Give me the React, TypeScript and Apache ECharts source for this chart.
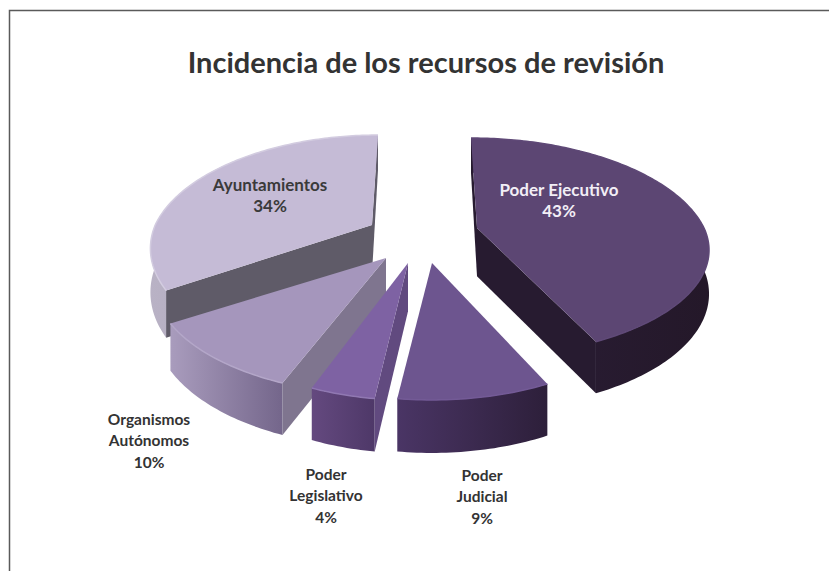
import React, { useEffect, useRef } from "react";
import * as echarts from "echarts";

const chartTitle = "Incidencia de los recursos de revisión";
const categories = ["Poder Ejecutivo", "Poder\nJudicial", "Poder\nLegislativo", "Organismos\nAutónomos", "Ayuntamientos"];
const shares = [43, 9, 4, 10, 34];

// back-to-front painting order, exploded apex of every slice, and its look
const drawOrder = [0, 4, 3, 2, 1];
const apexX = [477, 432, 408, 386, 372];
const apexY = [228, 263, 263, 258, 225];
const backLean = [-6, 0, 0, 0, 6];
const widthScale = [1, 0.97, 0.93, 1, 0.955];
const frontScale = [0.94, 1, 1, 1, 1];
const topColors = ["#5C4673", "#6D558F", "#7E62A3", "#A596BC", "#C5BBD6"];
const rimColors = ["#5F4977", "#735A96", "#9078B2", "#B3A6C8", "#D3CCE0"];
const wallLeft = ["#2B1E38", "#4A3565", "#64497F", "#A99CBD", "#B9B2C5"];
const wallRight = ["#241829", "#2D1F3A", "#4E3868", "#74668B", "#A39DAF"];
const faceColors = ["#271B30", "#3A2950", "#614A7F", "#7F758F", "#5F5B68"];
const labelX = [559, 482, 326, 149, 270];
const labelY = [200, 496, 495, 440, 195];
const labelSizes = [17, 15.5, 15.5, 15.5, 17];
const labelColors = ["#F2EEF6", "#333333", "#333333", "#333333", "#3A3A3A"];

const RX = 227;
const RY = 108.6;
const K = 0.207;
const DEPTH = 42;

function project(deg: number, i: number) {
  const t = (deg * Math.PI) / 180;
  const u = Math.sin(t);
  const v = -Math.cos(t);
  const d = 1 - K * v;
  return {
    x: ((RX * u) / d) * widthScale[i] + (v < 0 ? -v * backLean[i] : 0),
    y: ((RY * v) / d) * (v > 0 ? frontScale[i] : 1),
    h: DEPTH / d,
  };
}

let cumulative = 0;
const startAngles = shares.map((s) => {
  const a = (cumulative / 100) * 360;
  cumulative += s;
  return a;
});

function renderItem(_params: any, api: any) {
  const i = api.value(0) as number;
  const start = api.value(2) as number;
  const end = start + ((api.value(1) as number) / 100) * 360;
  const ax = apexX[i];
  const ay = apexY[i];
  const arc: { x: number; y: number; h: number }[] = [];
  const steps = Math.max(6, Math.round(end - start));
  for (let s = 0; s <= steps; s++) arc.push(project(start + ((end - start) * s) / steps, i));
  const top = arc.map((p) => [ax + p.x, ay + p.y]);
  const low = arc.map((p) => [ax + p.x, ay + p.y + p.h]).reverse();
  const mid = project((start + end) / 2, i);
  const apexDepth = DEPTH * 1.15;
  const children: any[] = [];

  children.push({
    type: "polygon",
    shape: { points: [...top, ...low] },
    style: {
      fill: new echarts.graphic.LinearGradient(0, 0, 1, 0, [
        { offset: 0, color: wallLeft[i] },
        { offset: 1, color: wallRight[i] },
      ]),
    },
  });

  [arc[0], arc[arc.length - 1]].forEach((p) => {
    const side = p.x * 1 - p.y * 0;
    const inner = p.x * mid.y - p.y * mid.x;
    if (side * inner < 0) {
      children.push({
        type: "polygon",
        shape: {
          points: [
            [ax, ay],
            [ax + p.x, ay + p.y],
            [ax + p.x, ay + p.y + p.h],
            [ax, ay + apexDepth],
          ],
        },
        style: { fill: faceColors[i] },
      });
    }
  });

  children.push({
    type: "polygon",
    shape: { points: [[ax, ay], ...top] },
    style: { fill: topColors[i] },
  });
  children.push({
    type: "polyline",
    shape: { points: top },
    style: { stroke: rimColors[i], lineWidth: 1.5, fill: "none" },
  });
  children.push({
    type: "text",
    style: {
      x: labelX[i],
      y: labelY[i],
      text: `${categories[i]}\n${api.value(1)}%`,
      align: "center",
      verticalAlign: "middle",
      font: `bold ${labelSizes[i]}px Lato`,
      lineHeight: 21.5,
      fill: labelColors[i],
    },
  });
  return { type: "group", children };
}

export default function App() {
  const ref = useRef<HTMLDivElement>(null);
  useEffect(() => {
    const chart = echarts.init(ref.current!, undefined, { renderer: "svg" });
    chart.setOption({
      animation: false,
      backgroundColor: "#FFFFFF",
      title: {
        text: chartTitle,
        left: 421,
        top: 42,
        textAlign: "center",
        textStyle: { fontFamily: "Lato", fontSize: 29, fontWeight: 700, color: "#333333" },
      },
      graphic: [
        {
          type: "polyline",
          silent: true,
          shape: { points: [[9.5, 571], [9.5, 10.5], [829, 10.5]] },
          style: { stroke: "#5A5A5A", lineWidth: 1.5, fill: "none" },
        },
      ],
      series: [
        {
          type: "custom",
          coordinateSystem: "none",
          silent: true,
          renderItem,
          data: drawOrder.map((i) => [i, shares[i], startAngles[i]]),
        },
      ],
    });
    return () => chart.dispose();
  }, []);
  return <div ref={ref} style={{ position: "fixed", left: 0, top: 0, width: 829, height: 571 }} />;
}
